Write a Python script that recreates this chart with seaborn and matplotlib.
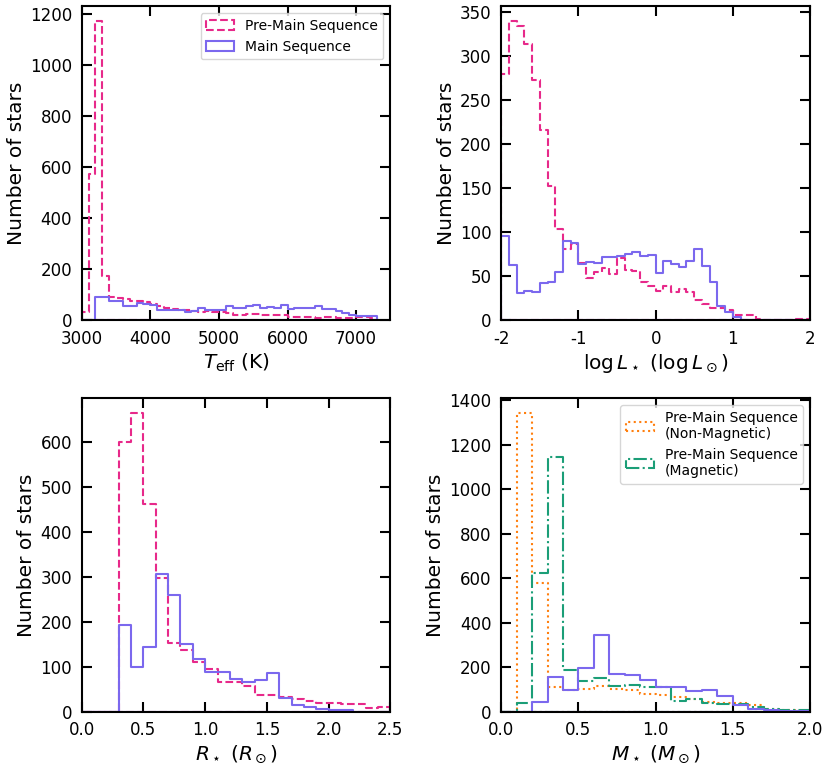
import numpy as np
import pandas as pd
import matplotlib
matplotlib.use("Agg")
import matplotlib.pyplot as plt
from matplotlib.patches import Patch
from matplotlib.ticker import MultipleLocator
import seaborn as sns

# ---------------- data (counts per bin) ----------------
teff_start, teff_width = 3000, 100
teff_pms = [30, 570, 1170, 170, 90, 86, 80, 72, 75, 70, 63, 55, 46, 42, 40, 38, 35,
            32, 35, 32, 29, 26, 18, 20, 22, 22, 20, 20, 20, 18, 13, 12, 10, 10, 9,
            10, 10, 8, 8, 9, 12, 10, 6]
teff_ms = [0, 0, 90, 88, 75, 72, 55, 55, 65, 62, 58, 38, 38, 38, 38, 32, 36, 45,
           38, 38, 38, 55, 48, 48, 55, 60, 48, 52, 48, 60, 43, 48, 48, 48, 55, 42,
           42, 33, 26, 20, 16, 16, 16]

logl_start, logl_width = -2.0, 0.1
logl_pms = [279, 339, 334, 313, 272, 216, 152, 103, 81, 86, 64, 48, 54, 59, 52, 70,
            57, 56, 43, 38, 33, 38, 32, 35, 32, 22, 18, 13, 14, 11, 5, 6, 6, 1,
            0, 0, 0, 0, 1, 1]
logl_ms = [95, 62, 30, 33, 32, 42, 43, 54, 89, 87, 63, 66, 65, 71, 71, 73, 75, 77,
           73, 74, 53, 67, 63, 60, 67, 80, 61, 43, 16, 9, 3, 0, 0, 0, 0, 0, 0, 0, 0, 0]

r_start, r_width = 0.0, 0.1
r_pms = [0, 0, 0, 600, 663, 461, 296, 152, 138, 110, 95, 67, 67, 58, 36, 38, 32,
         28, 24, 19, 19, 17, 17, 8, 10]
r_ms = [0, 0, 0, 193, 100, 144, 305, 260, 150, 116, 88, 88, 72, 66, 71, 87, 30,
        15, 11, 7, 4, 3, 0, 0, 0]

m_start, m_width = 0.0, 0.1
m_pms_nonmag = [0, 1343, 581, 111, 96, 100, 116, 104, 99, 81, 77, 65, 58, 45, 40,
                40, 28, 12, 7, 5]
m_pms_mag = [0, 40, 624, 1145, 187, 138, 151, 116, 121, 111, 111, 49, 59, 41, 33,
             33, 22, 10, 7, 6]
m_ms = [0, 0, 44, 158, 96, 197, 344, 168, 163, 142, 109, 109, 94, 99, 70, 30, 13,
        7, 3, 2]

label_pms = "Pre-Main Sequence"
label_ms = "Main Sequence"
label_nonmag = "Pre-Main Sequence\n(Non-Magnetic)"
label_mag = "Pre-Main Sequence\n(Magnetic)"

# ---------------- style ----------------
sns.set_style("ticks")
plt.rcParams.update({
    "font.family": ["DejaVu Sans"],
    "mathtext.fontset": "dejavusans",
    "axes.unicode_minus": False,
    "text.color": "black", "axes.labelcolor": "black",
    "xtick.direction": "in", "ytick.direction": "in",
    "xtick.top": True, "ytick.right": True,
    "xtick.major.size": 7, "ytick.major.size": 7,
    "xtick.major.width": 1.5, "ytick.major.width": 1.5,
    "xtick.major.pad": 7, "ytick.major.pad": 7,
    "xtick.minor.visible": False, "ytick.minor.visible": False,
    "axes.linewidth": 1.5, "axes.edgecolor": "black",
    "xtick.color": "black", "ytick.color": "black",
    "xtick.labelcolor": "black", "ytick.labelcolor": "black",
    "xtick.labelsize": 12, "ytick.labelsize": 12,
    "axes.labelsize": 14.5,
    "axes.labelpad": 3,
    "legend.fontsize": 10,
    "axes.facecolor": "white", "figure.facecolor": "white",
})

C_PMS = "#e7298a"
C_MS = "#7b68ee"
C_NONMAG = "#ff7f0e"
C_MAG = "#1b9e77"
LW = 1.5


def draw(ax, start, width, counts, color, ls):
    n = len(counts)
    centers = start + width * (np.arange(n) + 0.5)
    df = pd.DataFrame({"value": centers, "count": np.asarray(counts, dtype=float)})
    sns.histplot(data=df, x="value", weights="count", binwidth=width,
                 binrange=(start, start + n * width), element="step", fill=True,
                 color=color, facecolor="none", edgecolor=color, linestyle=ls,
                 linewidth=LW, ax=ax)


def handle(color, ls, label):
    return Patch(facecolor="none", edgecolor=color, linestyle=ls, linewidth=LW, label=label)


fig, axes = plt.subplots(2, 2, figsize=(8.3, 7.67), dpi=100)
fig.subplots_adjust(left=0.0984, right=0.9759, bottom=0.0721, top=0.9917,
                    wspace=0.359, hspace=0.25)

# Teff
ax = axes[0, 0]
draw(ax, teff_start, teff_width, teff_pms, C_PMS, "--")
draw(ax, teff_start, teff_width, teff_ms, C_MS, "-")
ax.set_xlim(3000, 7500)
ax.xaxis.set_major_locator(MultipleLocator(1000))
ax.yaxis.set_major_locator(MultipleLocator(200))
ax.set_xlabel(r"$T_{\rm eff}$ (K)")
ax.legend(handles=[handle(C_PMS, "--", label_pms), handle(C_MS, "-", label_ms)],
          loc="upper right")

# log L
ax = axes[0, 1]
draw(ax, logl_start, logl_width, logl_pms, C_PMS, "--")
draw(ax, logl_start, logl_width, logl_ms, C_MS, "-")
ax.set_xlim(-2, 2)
ax.xaxis.set_major_locator(MultipleLocator(1))
ax.yaxis.set_major_locator(MultipleLocator(50))
ax.set_xlabel(r"$\log L_\star$ ($\log L_\odot$)")

# Radius
ax = axes[1, 0]
draw(ax, r_start, r_width, r_pms, C_PMS, "--")
draw(ax, r_start, r_width, r_ms, C_MS, "-")
ax.set_xlim(0, 2.5)
ax.xaxis.set_major_locator(MultipleLocator(0.5))
ax.yaxis.set_major_locator(MultipleLocator(100))
ax.set_xlabel(r"$R_\star$ ($R_\odot$)")

# Mass
ax = axes[1, 1]
draw(ax, m_start, m_width, m_pms_nonmag, C_NONMAG, ":")
draw(ax, m_start, m_width, m_pms_mag, C_MAG, "-.")
draw(ax, m_start, m_width, m_ms, C_MS, "-")
ax.set_xlim(0, 2)
ax.xaxis.set_major_locator(MultipleLocator(0.5))
ax.yaxis.set_major_locator(MultipleLocator(200))
ax.set_xlabel(r"$M_\star$ ($M_\odot$)")
ax.legend(handles=[handle(C_NONMAG, ":", label_nonmag), handle(C_MAG, "-.", label_mag)],
          loc="upper right")

for ax in axes.flat:
    ax.set_ylabel("Number of stars")
    ax.set_ylim(bottom=0)
    for s in ax.spines.values():
        s.set_visible(True)
        s.set_zorder(3)

fig.savefig("out.png", dpi=100)
